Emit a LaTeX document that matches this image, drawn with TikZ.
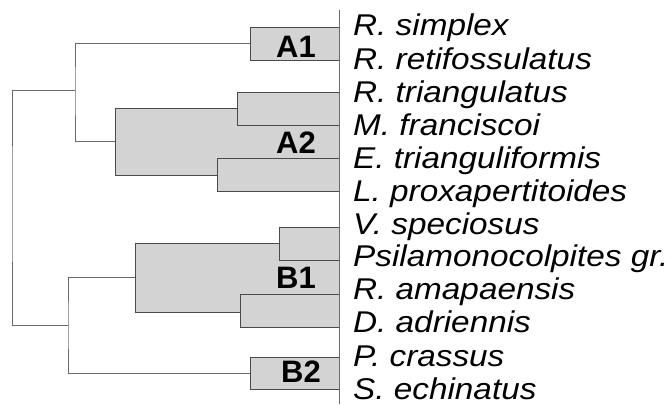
\documentclass[tikz,border=0pt]{standalone}
\usepackage{fontspec}
\setmainfont{Liberation Sans}
\newfontfamily\spfont{Liberation Sans}[FakeStretch=1.11]
\definecolor{boxfill}{HTML}{D3D3D3}
\definecolor{boxline}{HTML}{4A4A4A}
\definecolor{treeline}{HTML}{6A6A6A}
\begin{document}
\begin{tikzpicture}[x=1pt,y=-1pt,
  clade/.style={draw=boxline,fill=boxfill,line width=0.9pt,inner sep=0pt,outer sep=0pt},
  branch/.style={draw=treeline,line width=0.8pt},
  taxon/.style={anchor=base west,inner sep=0pt,font=\spfont\itshape\fontsize{30}{33}\selectfont},
  group/.style={anchor=base,inner sep=0pt,font=\bfseries\fontsize{31}{33}\selectfont}]
\useasboundingbox (0,0) rectangle (671,404);

% clade boxes (larger boxes first, nested boxes on top)
\path[clade] (250,27) rectangle (339,60) node[pos=0.5,inner sep=0pt,outer sep=0pt,minimum width=89pt,minimum height=33pt] (a1) {};
\path[clade] (115,108) rectangle (339,175) node[pos=0.5,inner sep=0pt,outer sep=0pt,minimum width=224pt,minimum height=67pt] (a2) {};
\path[clade] (237,92) rectangle (339,125);
\path[clade] (217,158) rectangle (339,191);
\path[clade] (135,243) rectangle (339,312) node[pos=0.5,inner sep=0pt,outer sep=0pt,minimum width=204pt,minimum height=69pt] (b1) {};
\path[clade] (279,227) rectangle (339,260);
\path[clade] (240,294) rectangle (339,327);
\path[clade] (250,357) rectangle (339,389) node[pos=0.5,inner sep=0pt,outer sep=0pt,minimum width=89pt,minimum height=32pt] (b2) {};

% group labels
\node[group] (la1) at (296,57) {A1};
\node[group] (la2) at (296,153) {A2};
\node[group] (lb1) at (296,288) {B1};
\node[group] (lb2) at (301,382) {B2};

% tree branches
\coordinate (nA) at (75,90);
\coordinate (nB) at (68,325);
\coordinate (root) at (12,200);
\draw[branch] (a1.west) -| (nA) |- (a2.west);
\draw[branch] (b1.west) -| (nB) |- (b2.west);
\draw[branch] (nA) -| (root) |- (nB);

% axis line beside the taxa
\coordinate (axtop) at (339,10);
\coordinate (axbot) at (339,404);
\draw[branch] (axtop) -- (axbot);

% taxa
\node[taxon] (t1) at (353,36) {R. simplex};
\node[taxon] (t2) at (353,69) {R. retifossulatus};
\node[taxon] (t3) at (353,102) {R. triangulatus};
\node[taxon] (t4) at (353,135) {M. franciscoi};
\node[taxon] (t5) at (353,168) {E. trianguliformis};
\node[taxon] (t6) at (353,201) {L. proxapertitoides};
\node[taxon] (t7) at (353,234) {V. speciosus};
\node[taxon] (t8) at (353,266) {Psilamonocolpites gr.};
\node[taxon] (t9) at (353,299) {R. amapaensis};
\node[taxon] (t10) at (353,332) {D. adriennis};
\node[taxon] (t11) at (353,366) {P. crassus};
\node[taxon] (t12) at (353,399) {S. echinatus};
\end{tikzpicture}
\end{document}
